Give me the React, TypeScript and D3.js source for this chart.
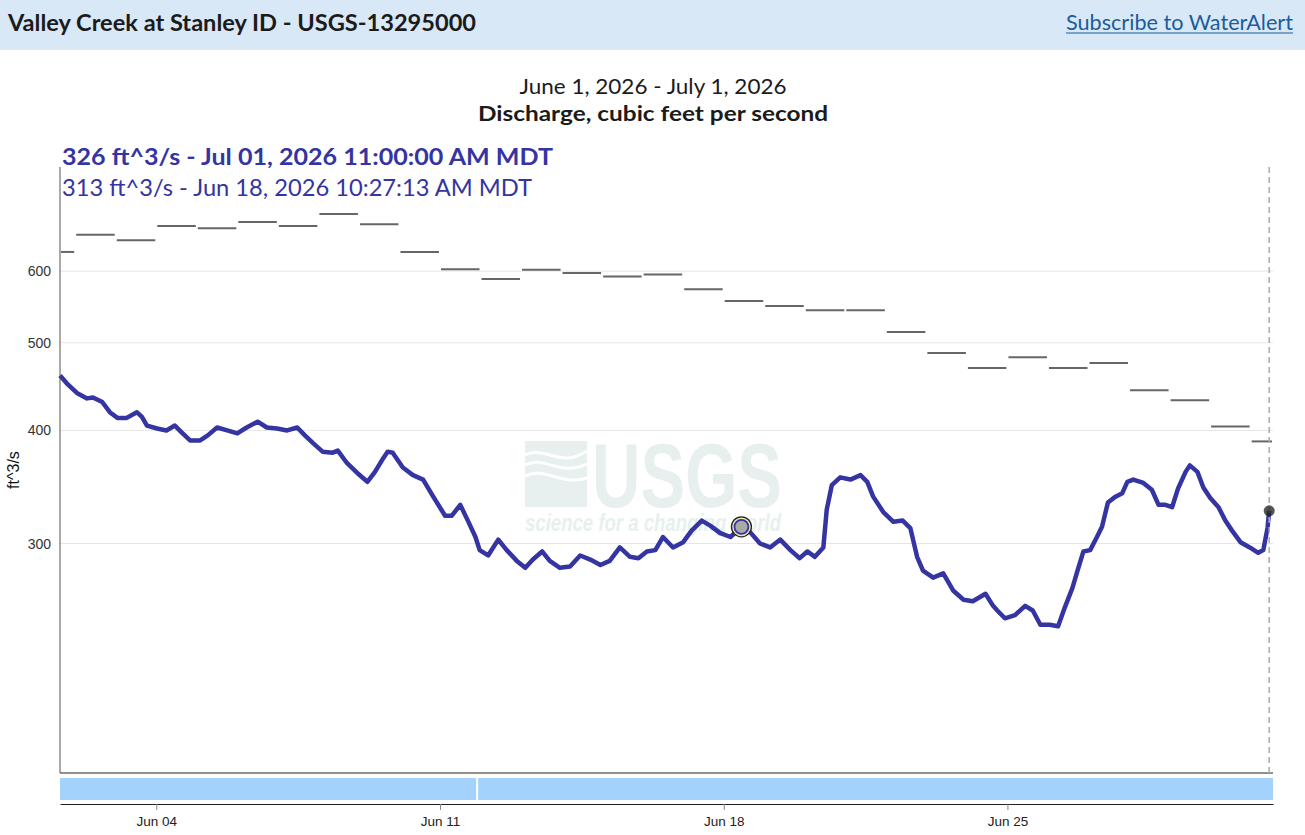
import { useEffect, useRef } from "react";
import * as d3 from "d3";

const W = 1305;
const H = 835;

// instantaneous discharge: hours after Jun 1 00:00 MDT, ft^3/s
const flowHours = [
  15, 19, 25, 31, 34.5, 40, 44.5, 49, 54.5, 60.5, 63.5, 66.5, 72.5, 78, 83, 87, 92, 98, 102.5, 108,
  114, 120, 125.5, 132, 137.5, 143.5, 149.5, 155.5, 160, 165, 170.5, 176.5, 179.5, 185, 191, 197,
  201.5, 206.5, 209, 212, 218, 224, 230, 236, 243, 247, 252, 256.5, 261, 263.5, 268.5, 274.5, 279.5,
  285.5, 290.5, 295, 300.5, 305, 311, 317, 323, 329, 335, 340.5, 346.5, 352.5, 357.5, 362.5, 367.5,
  372, 378, 384, 389, 395, 400, 406, 412, 418.5, 423.5, 429.5, 435.5, 441.5, 447.5, 453, 457.5, 462,
  467, 469, 472, 477, 483, 489, 493, 496.5, 502.5, 508.5, 514, 518.5, 522.5, 526, 532, 538, 544, 550,
  555.5, 563, 567.5, 570, 574.5, 580.5, 586.5, 591, 595.5, 601, 606, 610, 614.5, 617.5, 621, 625, 629,
  632, 635.5, 640, 644, 647, 650.5, 656.5, 661.5, 665.5, 669.5, 673.5, 677, 681.5, 684, 688.5, 692,
  696, 701, 705, 709, 714, 719.5, 724.5, 727.5, 730, 731,
];
const flowValues = [
  460, 451, 440, 434, 435, 430, 419, 413, 413, 419, 414, 405, 402, 400, 405, 398, 390, 390, 395, 403,
  400, 397, 403, 409, 403, 402, 400, 403, 395, 387, 379, 378, 380, 368, 359, 351,
  360, 373, 379, 378, 364, 357, 353, 338, 322, 322, 331, 318, 305, 295, 291, 303, 295,
  287, 282, 288, 294, 287, 282, 283, 291, 288, 284, 287, 297, 290, 289, 294, 295,
  305, 297, 301, 310, 318, 314, 308, 305, 313, 309, 300, 297, 303, 295, 289, 294, 290,
  297, 327, 348, 355, 353, 357, 351, 338, 325, 317, 318, 312, 290, 280, 275, 278, 266, 260,
  259, 264, 256, 253, 248, 250, 256, 253, 244, 244, 243, 255, 268, 280, 294, 295, 305,
  313, 333, 338, 341, 351, 353, 350, 344, 331, 331, 329, 345, 360, 366, 360, 346,
  337, 329, 318, 310, 301, 297, 293, 295, 312, 326,
];

// daily median statistic, one per day starting Jun 1
const medianValues = [
  630, 658, 649, 673, 669, 680, 673, 694, 676, 630, 603, 588, 602, 597, 592, 595, 573, 556, 549, 543,
  543, 514, 487, 469, 482, 469, 475, 443, 432, 404, 389,
];

const yTicks = [300, 400, 500, 600];
const xTickDays = [4, 11, 18, 25];

const current = { hour: 731, value: 326, label: "326 ft^3/s - Jul 01, 2026 11:00:00 AM MDT" };
const cursor = { hour: 418.5, value: 313, label: "313 ft^3/s - Jun 18, 2026 10:27:13 AM MDT" };

const LINE = "#3434a2";
const hourToDate = (h: number) => new Date(Date.UTC(2026, 5, 1) + h * 3600e3);

export default function App() {
  const svgRef = useRef<SVGSVGElement>(null);

  useEffect(() => {
    if (!svgRef.current) return;
    const svg = d3.select(svgRef.current);
    svg.selectAll("*").remove();

    const left = 60;
    const right = 1273;
    const top = 167;
    const bottom = 773;

    const x = d3
      .scaleUtc()
      .domain([hourToDate(15), hourToDate(733.25)])
      .range([left, right]);
    const y = d3.scaleLog().domain([167.3, 782]).range([bottom, top]);

    // header band
    svg.append("rect").attr("x", 0).attr("y", 0).attr("width", W).attr("height", 50).attr("fill", "#d9e8f6");
    svg
      .append("text")
      .attr("x", 8)
      .attr("y", 31)
      .attr("font-family", "Lato, 'Open Sans', sans-serif")
      .attr("font-weight", 700)
      .attr("font-size", 22)
      .attr("fill", "#1b1b1b")
      .attr("textLength", 468)
      .attr("lengthAdjust", "spacingAndGlyphs")
      .text("Valley Creek at Stanley ID - USGS-13295000");
    svg
      .append("text")
      .attr("x", 1066)
      .attr("y", 30)
      .attr("font-family", "Lato, 'Open Sans', sans-serif")
      .attr("font-size", 21)
      .attr("fill", "#1a5c9c")
      .attr("textLength", 227)
      .attr("lengthAdjust", "spacingAndGlyphs")
      .text("Subscribe to WaterAlert");
    svg.append("line").attr("x1", 1066).attr("x2", 1293).attr("y1", 33).attr("y2", 33).attr("stroke", "#1a5c9c").attr("stroke-width", 1.2);

    // titles
    svg
      .append("text")
      .attr("x", 653)
      .attr("y", 94)
      .attr("text-anchor", "middle")
      .attr("font-family", "Lato, 'Open Sans', sans-serif")
      .attr("font-size", 21)
      .attr("fill", "#1b1b1b")
      .attr("textLength", 267)
      .attr("lengthAdjust", "spacingAndGlyphs")
      .text("June 1, 2026 - July 1, 2026");
    svg
      .append("text")
      .attr("x", 653)
      .attr("y", 121)
      .attr("text-anchor", "middle")
      .attr("font-family", "Lato, 'Open Sans', sans-serif")
      .attr("font-weight", 700)
      .attr("font-size", 21)
      .attr("fill", "#1b1b1b")
      .attr("textLength", 350)
      .attr("lengthAdjust", "spacingAndGlyphs")
      .text("Discharge, cubic feet per second");

    // watermark
    const wm = svg.append("g").attr("fill", "#e7f0ee");
    wm.append("rect").attr("x", 525).attr("y", 441).attr("width", 62).attr("height", 66);
    [455, 465, 476].forEach((yy, i) => {
      wm.append("path")
        .attr("d", `M525,${yy} C545,${yy - 10} 560,${yy + 14 - i * 2} 587,${yy - 4 + i * 3}`)
        .attr("fill", "none")
        .attr("stroke", "#fff")
        .attr("stroke-width", 3);
    });
    wm.append("text")
      .attr("x", 592)
      .attr("y", 507)
      .attr("font-family", "'Liberation Sans', Arial, sans-serif")
      .attr("font-weight", 700)
      .attr("font-size", 91)
      .attr("textLength", 190)
      .attr("lengthAdjust", "spacingAndGlyphs")
      .text("USGS");
    wm.append("text")
      .attr("x", 525)
      .attr("y", 531)
      .attr("font-family", "'Liberation Sans', Arial, sans-serif")
      .attr("font-weight", 700)
      .attr("font-style", "italic")
      .attr("font-size", 24)
      .attr("textLength", 256)
      .attr("lengthAdjust", "spacingAndGlyphs")
      .text("science for a changing world");

    // grid
    svg
      .append("g")
      .selectAll("line")
      .data(yTicks)
      .join("line")
      .attr("x1", left)
      .attr("x2", right)
      .attr("y1", (d) => y(d))
      .attr("y2", (d) => y(d))
      .attr("stroke", "#e6e6e6")
      .attr("stroke-width", 1);

    svg
      .append("g")
      .selectAll("text")
      .data(yTicks)
      .join("text")
      .attr("x", 51)
      .attr("y", (d) => y(d) + 5)
      .attr("text-anchor", "end")
      .attr("font-family", "'Liberation Sans', Arial, sans-serif")
      .attr("font-size", 14)
      .attr("fill", "#333")
      .text((d) => d);

    svg
      .append("text")
      .attr("transform", "translate(19,470) rotate(-90)")
      .attr("text-anchor", "middle")
      .attr("font-family", "'Liberation Sans', Arial, sans-serif")
      .attr("font-size", 16)
      .attr("fill", "#111")
      .text("ft^3/s");

    // daily medians
    const clip = (v: number) => Math.max(left, Math.min(right, v));
    svg
      .append("g")
      .selectAll("line")
      .data(medianValues)
      .join("line")
      .attr("x1", (_d, i) => clip(x(hourToDate(i * 24))) + 1)
      .attr("x2", (_d, i) => clip(x(hourToDate((i + 1) * 24))) - 1)
      .attr("y1", (d) => y(d))
      .attr("y2", (d) => y(d))
      .attr("stroke", "#666")
      .attr("stroke-width", 2);

    // discharge line
    const pts = flowHours.map((h, i) => [x(hourToDate(h)), y(flowValues[i])] as [number, number]);
    svg
      .append("path")
      .attr("d", d3.line()(pts))
      .attr("fill", "none")
      .attr("stroke", LINE)
      .attr("stroke-width", 4.5)
      .attr("stroke-linejoin", "round");

    // axes frame
    svg.append("line").attr("x1", left).attr("x2", left).attr("y1", top).attr("y2", bottom).attr("stroke", "#555").attr("stroke-width", 1);
    svg.append("line").attr("x1", left).attr("x2", right).attr("y1", bottom).attr("y2", bottom).attr("stroke", "#222").attr("stroke-width", 1);

    // current time marker
    const cx = x(hourToDate(current.hour));
    svg
      .append("line")
      .attr("x1", cx)
      .attr("x2", cx)
      .attr("y1", top)
      .attr("y2", bottom)
      .attr("stroke", "#aaa")
      .attr("stroke-width", 1.5)
      .attr("stroke-dasharray", "6,4");
    svg
      .append("circle")
      .attr("cx", cx)
      .attr("cy", y(current.value))
      .attr("r", 5.5)
      .attr("fill", "rgba(30,30,30,0.75)");

    // cursor marker
    const kx = x(hourToDate(cursor.hour));
    const ky = y(cursor.value);
    svg.append("circle").attr("cx", kx).attr("cy", ky).attr("r", 10).attr("fill", "#efe6b0").attr("stroke", "#222").attr("stroke-width", 1.3);
    svg.append("circle").attr("cx", kx).attr("cy", ky).attr("r", 7).attr("fill", "#a9a9a9").attr("stroke", LINE).attr("stroke-width", 1.8);

    // legend texts
    svg
      .append("text")
      .attr("x", 62)
      .attr("y", 165)
      .attr("font-family", "Lato, 'Open Sans', sans-serif")
      .attr("font-weight", 700)
      .attr("font-size", 23)
      .attr("fill", LINE)
      .attr("textLength", 491)
      .attr("lengthAdjust", "spacingAndGlyphs")
      .text(current.label);
    svg
      .append("text")
      .attr("x", 62)
      .attr("y", 196)
      .attr("font-family", "Lato, 'Open Sans', sans-serif")
      .attr("font-size", 23)
      .attr("fill", LINE)
      .attr("textLength", 470)
      .attr("lengthAdjust", "spacingAndGlyphs")
      .text(cursor.label);

    // brush strip
    const gapX = x(hourToDate(262));
    svg.append("rect").attr("x", left).attr("y", 778).attr("width", right - left).attr("height", 22).attr("fill", "#a3d3fc");
    svg.append("line").attr("x1", gapX).attr("x2", gapX).attr("y1", 778).attr("y2", 800).attr("stroke", "#fff").attr("stroke-width", 2);

    const xAxis = d3
      .axisBottom(x)
      .tickValues(xTickDays.map((d) => hourToDate((d - 1) * 24)))
      .tickFormat((d) => d3.utcFormat("%b %d")(d as Date))
      .tickSize(6)
      .tickSizeOuter(0);
    const gx = svg.append("g").attr("transform", "translate(0,804)").call(xAxis);
    gx.select(".domain").attr("stroke", "#222");
    gx.selectAll(".tick line").attr("stroke", "#888");
    gx.selectAll(".tick text")
      .attr("font-family", "'Liberation Sans', Arial, sans-serif")
      .attr("font-size", 13.5)
      .attr("fill", "#222")
      .attr("dy", "0.95em");
  }, []);

  return (
    <div style={{ position: "absolute", left: 0, top: 0, width: W, height: H, background: "#fff" }}>
      <svg ref={svgRef} width={W} height={H} style={{ display: "block" }} />
    </div>
  );
}
